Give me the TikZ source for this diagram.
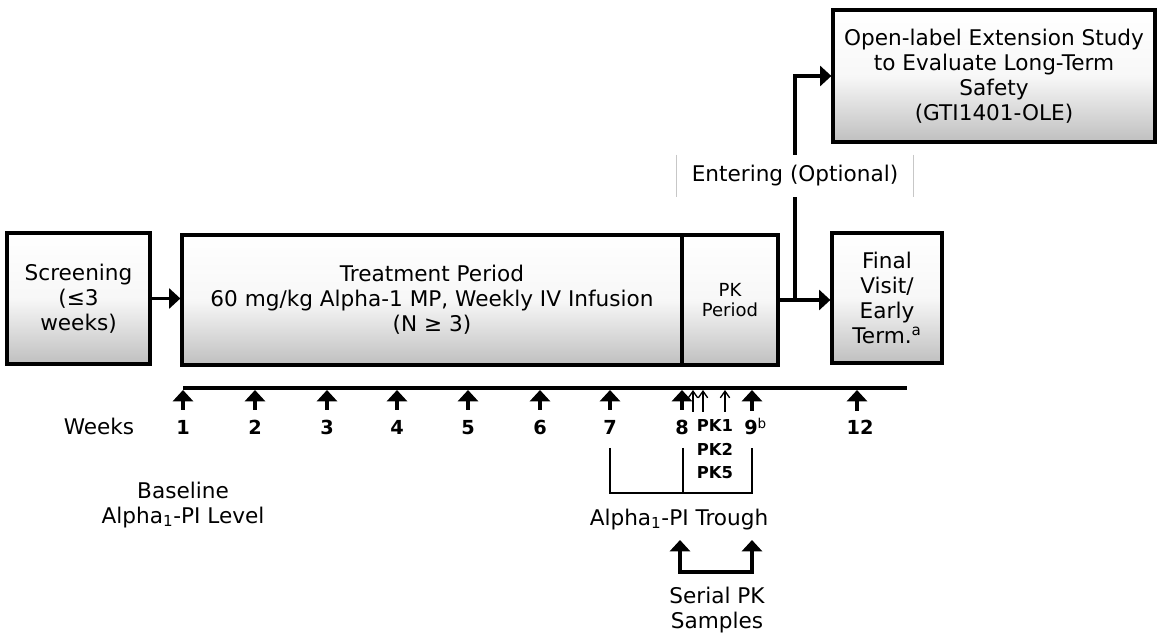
\documentclass[tikz,border=0pt]{standalone}
\usepackage{fontspec}
\setmainfont{DejaVu Sans}
\usetikzlibrary{arrows.meta}
\tikzset{
  box/.style={draw, line width=2.4pt, top color=white, bottom color=black!25, middle color=black!3,
    align=center, inner sep=0pt, font=\fontsize{16.2}{18.7}\selectfont},
  thk/.style={line width=2.7pt},
  arr/.style={thk, -{Triangle[width=15pt,length=8.5pt]}},
  thinarr/.style={line width=1pt, -{Straight Barb[width=7pt,length=5pt]}},
  lbl/.style={font=\fontsize{16.2}{18.7}\selectfont, align=center, inner sep=0pt},
  num/.style={font=\fontsize{14.5}{16}\selectfont\bfseries, inner sep=0pt, anchor=base},
  pklbl/.style={font=\fontsize{12.3}{14}\selectfont\bfseries, inner sep=0pt, anchor=base},
  brk/.style={line width=1.8pt},
}
\begin{document}
\begin{tikzpicture}[x=0.75pt,y=-0.75pt]
\useasboundingbox (0,0) rectangle (1157,634);

% boxes
\node[box, minimum width=107.25pt, minimum height=98.25pt] (scr) at (78.5,298.5) {Screening\\(≤3\\weeks)};
\node[box, minimum width=375pt, minimum height=97.5pt] (trt) at (432,300) {Treatment Period\\60 mg/kg Alpha-1 MP, Weekly IV Infusion\\(N ≥ 3)};
\node[box, minimum width=72pt, minimum height=97.5pt, font=\fontsize{13.5}{15.5}\selectfont] (pk) at (730,300) {PK\\Period};
\node[box, minimum width=82.5pt, minimum height=97.5pt] (fin) at (887,298) {Final\\Visit/\\Early\\Term.\textsuperscript{a}};
\node[box, minimum width=241.5pt, minimum height=99pt] (ole) at (994,76) {Open-label Extension Study\\to Evaluate Long-Term\\Safety\\(GTI1401-OLE)};

% flow arrows
\draw[arr] (scr.east) -- (scr.east -| trt.west);
\coordinate (br) at (795,300);
\draw[thk] (pk.east) -- (br);
\draw[arr] (br) -- (br -| fin.west);
\draw[arr] (br) |- (ole.west);

\node[lbl, fill=white, minimum width=177pt, minimum height=31.5pt] (ent) at (795,176) {Entering (Optional)};
\draw[black!22, line width=0.8pt] (ent.north west) -- (ent.south west) (ent.north east) -- (ent.south east);

% timeline
\coordinate (t0) at (183,388);
\coordinate (t1) at (907,388);
\draw[thk] (t0) -- (t1);

\node[lbl, anchor=base] (wk) at (99,435) {Weeks};
\node[num] (w1) at (183,435) {1};
\node[num] (w2) at (255,435) {2};
\node[num] (w3) at (327,435) {3};
\node[num] (w4) at (397,435) {4};
\node[num] (w5) at (468,435) {5};
\node[num] (w6) at (540,435) {6};
\node[num] (w7) at (610,435) {7};
\node[num] (w8) at (682,435) {8};
\node[num, anchor=base west] (w9) at (744,435) {9\textsuperscript{\normalfont b}};
\node[num] (w12) at (860,435) {12};

\foreach \w in {w1,w2,w3,w4,w5,w6,w7,w8}{
  \draw[arr] ([yshift=8pt]\w.north) -- ([yshift=-1.5pt]\w.north |- t0);
}
\coordinate (a9) at (752,411);
\draw[arr] (a9) -- ([yshift=-1.5pt]a9 |- t0);
\coordinate (a12) at (857,411);
\draw[arr] (a12) -- ([yshift=-1.5pt]a12 |- t0);

% PK sample arrows
\coordinate (p1) at (693,412);
\coordinate (p2) at (703,412);
\coordinate (p3) at (725,412);
\foreach \p in {p1,p2,p3}{
  \draw[thinarr] (\p) -- ([yshift=-1.5pt]\p |- t0);
}
\node[pklbl] (pk1) at (715,432) {PK1};
\node[pklbl] (pk2) at (715,456) {PK2};
\node[pklbl] (pk5) at (715,479) {PK5};

% trough bracket
\coordinate (b7) at (610,448);
\coordinate (b8) at (683,448);
\coordinate (b9) at (752,448);
\coordinate (bb) at (610,493);
\draw[brk] (b7) -- (bb) -| (b9);
\draw[brk] (b8) -- (b8 |- bb);

\node[lbl, anchor=base] (tr) at (679,525) {Alpha\textsubscript{1}-PI Trough};
\node[lbl] (base) at (183,505) {Baseline\\Alpha\textsubscript{1}-PI Level};

% serial PK
\coordinate (s1) at (680,540);
\coordinate (s2) at (752,540);
\draw[thk, {Triangle[width=15pt,length=8.5pt]}-{Triangle[width=15pt,length=8.5pt]}] (s1) -- ++(0,32) -| (s2);
\node[lbl] (ser) at (717,610) {Serial PK\\Samples};
\end{tikzpicture}
\end{document}
